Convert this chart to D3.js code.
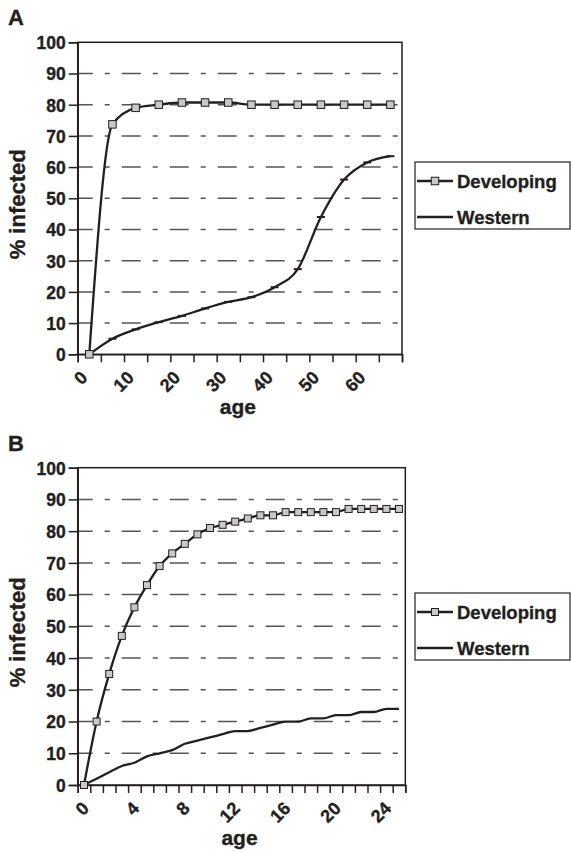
<!DOCTYPE html>
<html>
<head>
<meta charset="utf-8">
<script src="https://cdn.jsdelivr.net/npm/d3@7"></script>
<style>
  body { margin: 0; background: #fff; }
  svg text { font-family: "Liberation Sans", Arial, sans-serif; font-weight: bold; fill: #231f20; stroke: #231f20; stroke-width: 0.35px; }
</style>
</head>
<body>
<div id="chart"></div>
<script>
// panel A - ages in 5 year bins
const agesA = [2.5, 7.5, 12.5, 17.5, 22.5, 27.5, 32.5, 37.5, 42.5, 47.5, 52.5, 57.5, 62.5, 67.5];
const developingA = [0, 73.7, 79, 80, 80.7, 80.7, 80.7, 80, 80, 80, 80, 80, 80, 80];
const westernA = [0, 5, 8, 10.3, 12.3, 14.7, 16.8, 18.3, 21.5, 27.3, 44, 56, 61.5, 63.5];
const tickLabelsA = [0, 10, 20, 30, 40, 50, 60];

// panel B - ages 0..25 in years
const agesB = [0, 1, 2, 3, 4, 5, 6, 7, 8, 9, 10, 11, 12, 13, 14, 15, 16, 17, 18, 19, 20, 21, 22, 23, 24, 25];
const developingB = [0, 20, 35, 47, 56, 63, 69, 73, 76, 79, 81, 82, 83, 84, 85, 85, 86, 86, 86, 86, 86, 87, 87, 87, 87, 87];
const westernB = [0, 2, 4, 6, 7, 9, 10, 11, 13, 14, 15, 16, 17, 17, 18, 19, 20, 20, 21, 21, 22, 22, 23, 23, 24, 24];
const tickLabelsB = [0, 4, 8, 12, 16, 20, 24];

const yTicks = [0, 10, 20, 30, 40, 50, 60, 70, 80, 90, 100];
const seriesNames = ["Developing", "Western"];

const W = 571, H = 851;
const svg = d3.select("#chart").append("svg")
    .attr("width", W)
    .attr("height", H)
    .style("background-color", "#fff");

function drawPanel(p) {
    const g = svg.append("g");
    const x = d3.scaleLinear().domain(p.xDomain).range([p.left, p.right]);
    const y = d3.scaleLinear().domain([0, 100]).range([p.bottom, p.top]);

    // dashed grid
    g.selectAll(".grid")
        .data(yTicks.filter(d => d > 0 && d < 100))
        .enter()
        .append("line")
        .attr("x1", p.left).attr("x2", p.right)
        .attr("y1", d => y(d)).attr("y2", d => y(d))
        .attr("stroke", "#555")
        .attr("stroke-width", 1.5)
        .attr("stroke-dasharray", "19,12,5,12")
        .attr("stroke-dashoffset", 4);

    // frame
    g.append("rect")
        .attr("x", p.left).attr("y", p.top)
        .attr("width", p.right - p.left).attr("height", p.bottom - p.top)
        .attr("fill", "none")
        .attr("stroke", "#231f20")
        .attr("stroke-width", 1.5);

    // y axis
    const yAxis = d3.axisLeft(y).tickValues(yTicks).tickSize(9).tickPadding(3);
    const ya = g.append("g")
        .attr("transform", "translate(" + p.left + ",0)")
        .call(yAxis);
    ya.selectAll("path, line").attr("stroke", "#231f20").attr("stroke-width", 1.5);
    ya.selectAll("text").style("font-size", "17.5px").attr("dy", "0.36em");

    // x axis ticks
    const xAxis = d3.axisBottom(x).tickValues(p.tickMarks).tickSize(8)
        .tickFormat(p.labelsOnMarks ? (d => tickLabelsA.includes(d) ? d : "") : "");
    const xa = g.append("g")
        .attr("transform", "translate(0," + p.bottom + ")")
        .call(xAxis);
    xa.selectAll("path, line").attr("stroke", "#231f20").attr("stroke-width", 1.5);

    let labelSel = xa.selectAll("text");
    if (!p.labelsOnMarks) {
        const xl = g.append("g")
            .attr("transform", "translate(0," + p.bottom + ")")
            .call(d3.axisBottom(x).tickValues(p.tickLabels).tickSize(0));
        xl.select(".domain").remove();
        labelSel = xl.selectAll("text");
    }
    labelSel
        .style("font-size", "18px")
        .attr("text-anchor", "end")
        .attr("x", 0).attr("y", 0)
        .attr("dy", "0.35em")
        .attr("transform", "translate(" + p.labelDx + ",20) rotate(-45)");

    // axis titles
    g.append("text")
        .text("age")
        .attr("x", (p.left + p.right) / 2 - 2)
        .attr("y", p.bottom + 60)
        .attr("text-anchor", "middle")
        .style("font-size", "21px");
    g.append("text")
        .text("% infected")
        .attr("transform", "translate(25," + ((p.top + p.bottom) / 2 + 6) + ") rotate(-90)")
        .attr("text-anchor", "middle")
        .style("font-size", "22px");
    g.append("text")
        .text(p.letter)
        .attr("x", 8).attr("y", p.top - 17)
        .style("font-size", "22px");

    // lines
    const line = d3.line()
        .x(d => x(d[0]))
        .y(d => y(d[1]))
        .curve(p.curve);
    const dev = p.ages.map((a, i) => [a, p.developing[i]]);
    const wes = p.ages.map((a, i) => [a, p.western[i]]);

    g.append("path")
        .datum(wes)
        .attr("d", line)
        .attr("fill", "none")
        .attr("stroke", "#231f20")
        .attr("stroke-width", 2.3);

    if (p.westernMarks) {
        g.selectAll(".wmark")
            .data(wes)
            .enter()
            .append("line")
            .attr("x1", d => x(d[0]) - 4).attr("x2", d => x(d[0]) + 4)
            .attr("y1", d => y(d[1])).attr("y2", d => y(d[1]))
            .attr("stroke", "#231f20")
            .attr("stroke-width", 2);
    }

    g.append("path")
        .datum(dev)
        .attr("d", line)
        .attr("fill", "none")
        .attr("stroke", "#231f20")
        .attr("stroke-width", 2.3);

    g.selectAll(".sq")
        .data(dev)
        .enter()
        .append("rect")
        .attr("x", d => x(d[0]) - p.sq / 2)
        .attr("y", d => y(d[1]) - p.sq / 2)
        .attr("width", p.sq).attr("height", p.sq)
        .attr("fill", "#c8c8c8")
        .attr("stroke", "#231f20")
        .attr("stroke-width", 1);

    // legend
    const lg = g.append("g").attr("transform", "translate(415," + p.legendTop + ")");
    lg.append("rect")
        .attr("x", 0).attr("y", 0)
        .attr("width", 155).attr("height", 67)
        .attr("fill", "#fff")
        .attr("stroke", "#231f20")
        .attr("stroke-width", 1.2);
    seriesNames.forEach((name, i) => {
        const ly = 19 + i * 36;
        lg.append("line")
            .attr("x1", 2).attr("x2", 38)
            .attr("y1", ly).attr("y2", ly)
            .attr("stroke", "#231f20")
            .attr("stroke-width", 2.3);
        if (i === 0) {
            lg.append("rect")
                .attr("x", 20 - p.sq / 2).attr("y", ly - p.sq / 2)
                .attr("width", p.sq).attr("height", p.sq)
                .attr("fill", "#c8c8c8")
                .attr("stroke", "#231f20")
                .attr("stroke-width", 1);
        }
        lg.append("text")
            .text(name)
            .attr("x", 42).attr("y", ly)
            .attr("dy", "0.36em")
            .style("font-size", "18.5px");
    });
}

drawPanel({
    letter: "A",
    top: 42.3, bottom: 354.3, left: 77.7, right: 402,
    xDomain: [0, 70],
    tickMarks: d3.range(0, 71, 5),
    labelsOnMarks: true,
    labelDx: 6,
    ages: agesA, developing: developingA, western: westernA,
    curve: d3.curveMonotoneX,
    westernMarks: true,
    sq: 7.5,
    legendTop: 162
});

drawPanel({
    letter: "B",
    top: 467.7, bottom: 785, left: 77.7, right: 405.3,
    xDomain: [-0.5, 25.5],
    tickMarks: d3.range(-0.5, 26, 1),
    tickLabels: tickLabelsB,
    labelsOnMarks: false,
    labelDx: 1,
    ages: agesB, developing: developingB, western: westernB,
    curve: d3.curveMonotoneX,
    westernMarks: false,
    sq: 7,
    legendTop: 593
});
</script>
</body>
</html>
